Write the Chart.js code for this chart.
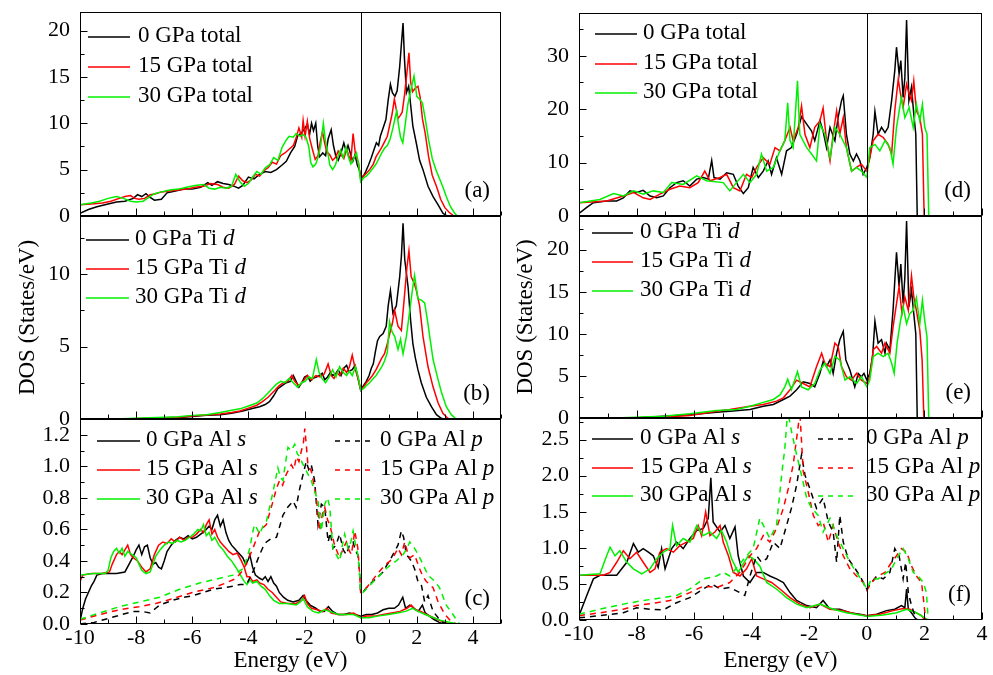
<!DOCTYPE html>
<html>
<head>
<meta charset="utf-8">
<script src="https://cdn.jsdelivr.net/npm/chart.js@4.4.1/dist/chart.umd.min.js"></script>
<style>
body{margin:0;background:#fff;width:993px;height:675px;position:relative;overflow:hidden}
canvas{position:absolute}
</style>
</head>
<body>
<canvas id="pa"></canvas>
<canvas id="pb"></canvas>
<canvas id="pc"></canvas>
<canvas id="pd"></canvas>
<canvas id="pe"></canvas>
<canvas id="pf"></canvas>
<script>
// ---- panel (a): total DOS, left column
const totA0 = [[-10,0.3],[-9.7,0.7],[-9.4,1.0],[-9.0,1.3],[-8.7,1.5],[-8.4,1.6],[-8.1,1.9],[-7.95,2.3],[-7.8,2.1],[-7.65,2.4],[-7.5,2.0],[-7.35,1.7],[-7.1,1.8],[-6.9,2.5],[-6.6,2.7],[-6.3,2.9],[-6.0,2.9],[-5.7,3.1],[-5.45,3.6],[-5.3,3.3],[-5.1,3.7],[-4.9,3.5],[-4.7,3.4],[-4.5,3.2],[-4.35,3.0],[-4.2,3.3],[-4.0,4.2],[-3.8,4.0],[-3.6,4.5],[-3.4,4.8],[-3.2,4.7],[-3.0,5.0],[-2.8,5.5],[-2.65,5.9],[-2.5,6.8],[-2.35,7.5],[-2.25,8.6],[-2.1,9.0],[-2.0,9.4],[-1.9,9.9],[-1.82,8.8],[-1.75,10.0],[-1.68,9.2],[-1.6,10.0],[-1.53,7.5],[-1.46,6.4],[-1.35,6.8],[-1.25,6.5],[-1.16,8.3],[-1.05,9.3],[-0.97,7.6],[-0.88,6.4],[-0.8,6.0],[-0.7,6.8],[-0.6,7.9],[-0.52,7.0],[-0.45,7.6],[-0.37,6.8],[-0.28,5.9],[-0.2,6.6],[-0.12,5.5],[-0.05,5.0],[0,4.4],[0.08,4.2],[0.18,4.8],[0.28,5.5],[0.38,6.3],[0.48,7.2],[0.56,7.9],[0.64,7.6],[0.7,8.6],[0.8,9.5],[0.9,10.4],[0.98,12.5],[1.06,14.2],[1.13,13.3],[1.22,12.9],[1.3,13.5],[1.39,16.1],[1.45,18.5],[1.51,20.8],[1.56,17.0],[1.63,13.3],[1.71,14.0],[1.78,12.0],[1.86,9.7],[1.98,7.9],[2.1,6.0],[2.22,5.0],[2.4,3.2],[2.58,2.1],[2.76,1.2],[2.93,0.3],[3.05,0.05],[3.15,0],[5,0]]
const totA15 = [[-10,1.2],[-9.6,1.3],[-9.2,1.4],[-8.9,1.6],[-8.6,1.9],[-8.4,2.1],[-8.2,2.2],[-8.05,1.9],[-7.9,1.8],[-7.7,1.9],[-7.5,2.3],[-7.3,2.4],[-7.1,2.6],[-6.8,2.7],[-6.5,2.8],[-6.2,2.9],[-5.9,3.1],[-5.6,3.2],[-5.35,3.5],[-5.1,3.4],[-4.9,3.1],[-4.7,3.0],[-4.5,3.4],[-4.35,4.3],[-4.2,3.8],[-4.05,3.6],[-3.9,3.9],[-3.75,4.5],[-3.6,4.3],[-3.45,4.9],[-3.3,5.2],[-3.15,5.8],[-3.0,5.6],[-2.85,6.5],[-2.7,6.8],[-2.55,7.2],[-2.4,7.6],[-2.3,8.4],[-2.2,9.5],[-2.1,8.5],[-2.05,10.3],[-1.98,8.6],[-1.9,10.2],[-1.82,8.4],[-1.72,7.2],[-1.62,6.1],[-1.52,6.5],[-1.44,8.0],[-1.36,9.1],[-1.28,7.8],[-1.2,6.9],[-1.1,6.6],[-1.0,6.0],[-0.9,6.3],[-0.8,7.0],[-0.7,6.6],[-0.6,6.2],[-0.5,7.2],[-0.42,6.5],[-0.35,6.0],[-0.27,8.9],[-0.18,6.5],[-0.08,5.8],[0,4.0],[0.1,4.3],[0.2,4.6],[0.32,5.0],[0.45,5.6],[0.55,6.4],[0.65,6.9],[0.75,7.4],[0.85,8.0],[0.95,8.6],[1.05,10.0],[1.12,11.0],[1.2,12.6],[1.27,11.5],[1.33,10.5],[1.4,10.8],[1.48,11.2],[1.56,13.0],[1.65,15.5],[1.72,17.6],[1.78,14.5],[1.85,13.4],[1.95,13.8],[2.04,14.0],[2.12,12.8],[2.2,10.5],[2.3,8.9],[2.42,6.4],[2.55,4.4],[2.7,3.2],[2.85,1.8],[3.0,0.9],[3.15,0.4],[3.3,0.05],[3.4,0],[5,0]]
const totA30 = [[-10,1.2],[-9.6,1.4],[-9.3,1.6],[-9.0,1.9],[-8.7,2.1],[-8.45,1.9],[-8.2,1.6],[-8.0,1.5],[-7.75,1.6],[-7.55,2.0],[-7.35,2.4],[-7.1,2.6],[-6.8,2.8],[-6.5,2.9],[-6.2,3.1],[-5.9,3.3],[-5.6,3.4],[-5.4,3.0],[-5.2,2.9],[-5.0,3.1],[-4.8,3.0],[-4.6,3.2],[-4.45,4.5],[-4.3,3.7],[-4.15,3.2],[-4.0,3.5],[-3.85,4.2],[-3.7,4.8],[-3.55,4.5],[-3.4,5.2],[-3.25,5.5],[-3.1,6.3],[-2.95,6.0],[-2.8,7.4],[-2.65,8.2],[-2.55,8.6],[-2.4,8.5],[-2.3,8.9],[-2.15,8.6],[-2.05,8.8],[-1.95,8.5],[-1.85,7.5],[-1.78,5.8],[-1.7,5.3],[-1.6,5.6],[-1.5,6.5],[-1.42,7.7],[-1.33,10.0],[-1.26,8.2],[-1.18,7.0],[-1.1,5.5],[-1.0,5.0],[-0.9,5.5],[-0.8,6.5],[-0.72,7.1],[-0.62,6.3],[-0.52,7.4],[-0.45,6.5],[-0.35,5.6],[-0.25,6.2],[-0.15,6.8],[-0.07,5.5],[0,3.7],[0.1,4.1],[0.2,4.3],[0.32,4.7],[0.45,5.2],[0.55,5.6],[0.65,6.2],[0.75,6.8],[0.85,7.3],[0.95,7.6],[1.05,8.3],[1.15,9.5],[1.22,10.5],[1.28,11.3],[1.35,9.8],[1.42,8.5],[1.5,7.9],[1.58,9.7],[1.68,12.0],[1.78,13.5],[1.9,15.1],[2.0,12.9],[2.1,12.6],[2.2,12.2],[2.3,10.5],[2.42,8.2],[2.55,6.2],[2.68,5.0],[2.8,4.1],[2.92,3.2],[3.05,2.1],[3.2,1.0],[3.35,0.3],[3.45,0],[5,0]]

// ---- panel (b): Ti d, left column
const tidB0 = [[-10,0],[-9,0],[-8,0.02],[-7,0.06],[-6.5,0.1],[-6,0.18],[-5.5,0.25],[-5,0.3],[-4.6,0.4],[-4.2,0.55],[-3.9,0.7],[-3.6,0.85],[-3.4,1.0],[-3.25,1.2],[-3.1,1.6],[-2.95,2.1],[-2.8,2.3],[-2.65,2.5],[-2.5,2.6],[-2.4,3.0],[-2.3,2.6],[-2.2,2.2],[-2.1,2.5],[-2.0,2.9],[-1.9,3.0],[-1.8,2.6],[-1.7,2.8],[-1.58,2.9],[-1.47,3.0],[-1.37,3.15],[-1.28,2.7],[-1.18,2.9],[-1.08,3.2],[-1.0,3.0],[-0.9,3.1],[-0.8,3.4],[-0.7,3.0],[-0.6,3.5],[-0.5,3.7],[-0.42,3.3],[-0.3,3.4],[-0.2,3.7],[-0.1,2.9],[0,2.0],[0.1,2.3],[0.2,2.6],[0.3,3.0],[0.38,3.5],[0.45,3.8],[0.52,4.6],[0.6,5.4],[0.68,5.7],[0.8,5.9],[0.91,6.4],[0.98,7.8],[1.06,8.85],[1.15,7.3],[1.27,7.8],[1.39,9.8],[1.45,11.2],[1.51,13.5],[1.57,11.0],[1.69,9.1],[1.78,6.8],[1.86,5.2],[1.95,4.2],[2.04,3.4],[2.16,2.5],[2.34,1.5],[2.52,0.85],[2.7,0.3],[2.87,0.05],[2.95,0],[5,0]]
const tidB15 = [[-10,0],[-8.5,0],[-7.5,0.05],[-6.5,0.12],[-6,0.2],[-5.5,0.28],[-5,0.35],[-4.6,0.45],[-4.3,0.55],[-4.0,0.75],[-3.7,0.95],[-3.5,1.2],[-3.3,1.5],[-3.1,1.9],[-2.9,2.3],[-2.75,2.5],[-2.6,2.6],[-2.45,3.0],[-2.35,2.6],[-2.2,2.3],[-2.05,2.6],[-1.9,3.0],[-1.75,2.7],[-1.6,3.0],[-1.45,2.9],[-1.3,3.1],[-1.16,3.8],[-1.05,3.0],[-0.95,2.8],[-0.85,3.2],[-0.75,3.0],[-0.62,3.5],[-0.5,3.2],[-0.4,3.6],[-0.3,4.4],[-0.2,3.5],[-0.1,2.8],[0,2.0],[0.1,2.2],[0.2,2.5],[0.3,2.7],[0.42,3.0],[0.55,3.4],[0.65,3.8],[0.75,4.2],[0.85,4.5],[0.95,5.2],[1.05,6.0],[1.13,6.6],[1.21,7.5],[1.33,6.4],[1.45,6.1],[1.57,8.7],[1.65,10.5],[1.72,11.6],[1.8,9.8],[1.9,9.4],[1.98,8.9],[2.1,7.8],[2.22,5.7],[2.4,3.6],[2.58,2.2],[2.76,1.1],[2.93,0.4],[3.1,0.05],[3.2,0],[5,0]]
const tidB30 = [[-10,0],[-8.5,0.02],[-7.5,0.08],[-6.5,0.15],[-6,0.25],[-5.5,0.3],[-5,0.45],[-4.6,0.6],[-4.3,0.7],[-4.0,0.9],[-3.7,1.1],[-3.5,1.4],[-3.3,1.8],[-3.15,2.1],[-3.0,2.4],[-2.85,2.6],[-2.7,2.5],[-2.55,2.8],[-2.4,2.5],[-2.25,2.2],[-2.1,2.5],[-1.98,2.6],[-1.85,2.9],[-1.72,2.8],[-1.58,4.1],[-1.48,3.2],[-1.38,2.8],[-1.25,2.5],[-1.12,2.9],[-1.0,3.4],[-0.88,2.9],[-0.75,3.6],[-0.62,3.2],[-0.5,3.0],[-0.4,3.3],[-0.3,3.0],[-0.18,3.6],[-0.08,2.8],[0,2.0],[0.1,2.1],[0.2,2.3],[0.32,2.5],[0.45,2.8],[0.55,3.0],[0.65,3.3],[0.75,3.6],[0.85,4.0],[0.95,4.6],[1.03,6.7],[1.12,6.0],[1.21,5.7],[1.33,4.8],[1.42,5.5],[1.51,4.5],[1.63,5.7],[1.75,7.5],[1.85,9.0],[1.92,9.9],[2.04,8.3],[2.16,8.2],[2.28,8.0],[2.38,6.8],[2.46,5.7],[2.58,4.1],[2.76,2.7],[2.87,1.9],[3.05,0.85],[3.23,0.3],[3.4,0],[5,0]]

// ---- panel (c): Al s (solid) and Al p (dashed), left column
const alsC0 = [[-10,0.02],[-9.9,0.1],[-9.8,0.16],[-9.7,0.2],[-9.6,0.24],[-9.5,0.27],[-9.4,0.31],[-9.2,0.32],[-8.7,0.32],[-8.4,0.33],[-8.25,0.38],[-8.1,0.43],[-8.0,0.47],[-7.9,0.5],[-7.8,0.44],[-7.7,0.49],[-7.6,0.5],[-7.5,0.42],[-7.4,0.38],[-7.3,0.39],[-7.2,0.36],[-7.1,0.35],[-7.0,0.4],[-6.9,0.46],[-6.75,0.5],[-6.6,0.53],[-6.45,0.55],[-6.3,0.54],[-6.15,0.56],[-6.0,0.54],[-5.85,0.55],[-5.7,0.57],[-5.55,0.59],[-5.4,0.62],[-5.3,0.6],[-5.2,0.66],[-5.1,0.69],[-5.0,0.62],[-4.9,0.66],[-4.8,0.58],[-4.7,0.53],[-4.6,0.5],[-4.5,0.48],[-4.4,0.46],[-4.3,0.44],[-4.2,0.42],[-4.1,0.38],[-4.0,0.41],[-3.95,0.44],[-3.85,0.36],[-3.75,0.31],[-3.6,0.29],[-3.5,0.28],[-3.4,0.3],[-3.3,0.27],[-3.2,0.3],[-3.1,0.26],[-3.0,0.24],[-2.9,0.2],[-2.75,0.17],[-2.6,0.15],[-2.4,0.14],[-2.2,0.15],[-2.05,0.18],[-1.95,0.15],[-1.8,0.12],[-1.6,0.1],[-1.45,0.08],[-1.3,0.08],[-1.15,0.11],[-1.0,0.08],[-0.8,0.06],[-0.6,0.06],[-0.4,0.07],[-0.2,0.06],[0,0.05],[0.2,0.06],[0.4,0.06],[0.6,0.07],[0.8,0.09],[1.0,0.1],[1.2,0.1],[1.35,0.12],[1.5,0.17],[1.6,0.1],[1.75,0.12],[1.9,0.1],[2.05,0.08],[2.2,0.12],[2.3,0.07],[2.45,0.05],[2.6,0.03],[2.8,0.01],[2.95,0],[5,0]]
const alsC15 = [[-10,0.27],[-9.9,0.31],[-9.6,0.32],[-9.2,0.32],[-8.95,0.33],[-8.85,0.38],[-8.7,0.44],[-8.6,0.46],[-8.5,0.44],[-8.4,0.47],[-8.3,0.5],[-8.2,0.44],[-8.1,0.42],[-7.95,0.4],[-7.8,0.36],[-7.65,0.33],[-7.5,0.35],[-7.35,0.44],[-7.2,0.5],[-7.05,0.52],[-6.9,0.51],[-6.75,0.54],[-6.6,0.52],[-6.45,0.55],[-6.3,0.53],[-6.15,0.55],[-6.0,0.55],[-5.85,0.57],[-5.7,0.6],[-5.6,0.58],[-5.5,0.63],[-5.4,0.66],[-5.3,0.57],[-5.2,0.6],[-5.1,0.55],[-5.0,0.52],[-4.9,0.5],[-4.8,0.48],[-4.7,0.46],[-4.55,0.44],[-4.4,0.45],[-4.25,0.4],[-4.15,0.36],[-4.05,0.3],[-3.95,0.3],[-3.85,0.27],[-3.7,0.28],[-3.6,0.26],[-3.45,0.25],[-3.3,0.22],[-3.15,0.2],[-3.0,0.17],[-2.85,0.14],[-2.6,0.13],[-2.3,0.13],[-2.1,0.15],[-2.0,0.18],[-1.9,0.13],[-1.75,0.1],[-1.55,0.09],[-1.35,0.08],[-1.2,0.1],[-1.05,0.07],[-0.8,0.06],[-0.5,0.06],[-0.25,0.07],[0,0.04],[0.2,0.05],[0.5,0.05],[0.8,0.06],[1.1,0.07],[1.4,0.08],[1.65,0.1],[1.8,0.12],[1.95,0.09],[2.15,0.08],[2.35,0.06],[2.6,0.04],[2.85,0.02],[3.1,0.005],[3.25,0],[5,0]]
const alsC30 = [[-10,0.31],[-9.5,0.32],[-9.1,0.32],[-9.0,0.34],[-8.9,0.42],[-8.8,0.46],[-8.7,0.48],[-8.6,0.45],[-8.5,0.48],[-8.4,0.43],[-8.3,0.46],[-8.15,0.44],[-8.0,0.42],[-7.9,0.38],[-7.8,0.34],[-7.65,0.32],[-7.5,0.33],[-7.4,0.38],[-7.3,0.43],[-7.15,0.47],[-7.0,0.5],[-6.85,0.52],[-6.7,0.51],[-6.55,0.53],[-6.4,0.52],[-6.25,0.53],[-6.1,0.55],[-5.95,0.57],[-5.8,0.6],[-5.7,0.59],[-5.6,0.63],[-5.5,0.56],[-5.4,0.58],[-5.3,0.53],[-5.2,0.55],[-5.05,0.5],[-4.9,0.47],[-4.75,0.43],[-4.6,0.4],[-4.45,0.36],[-4.35,0.33],[-4.25,0.3],[-4.15,0.27],[-4.05,0.25],[-3.95,0.28],[-3.85,0.26],[-3.7,0.27],[-3.55,0.24],[-3.4,0.22],[-3.25,0.18],[-3.1,0.15],[-2.9,0.13],[-2.6,0.13],[-2.3,0.12],[-2.15,0.14],[-2.05,0.16],[-1.9,0.11],[-1.7,0.08],[-1.5,0.07],[-1.3,0.09],[-1.1,0.08],[-0.8,0.06],[-0.5,0.06],[-0.25,0.06],[0,0.04],[0.3,0.04],[0.6,0.05],[1.0,0.06],[1.3,0.07],[1.6,0.08],[1.85,0.1],[2.05,0.08],[2.3,0.06],[2.6,0.04],[2.9,0.02],[3.2,0.01],[3.5,0],[5,0]]
const alpC0 = [[-10,0],[-9.5,0.01],[-8.9,0.04],[-8.5,0.06],[-8.1,0.08],[-7.8,0.08],[-7.5,0.07],[-7.3,0.1],[-7.16,0.12],[-6.7,0.15],[-6.3,0.17],[-5.97,0.18],[-5.6,0.2],[-5.26,0.22],[-4.9,0.23],[-4.55,0.24],[-4.3,0.25],[-4.07,0.25],[-3.84,0.33],[-3.6,0.44],[-3.45,0.5],[-3.36,0.52],[-3.2,0.54],[-3.0,0.55],[-2.85,0.64],[-2.77,0.69],[-2.6,0.74],[-2.41,0.78],[-2.3,0.74],[-2.17,0.86],[-2.05,0.95],[-1.94,1.03],[-1.85,0.98],[-1.76,1.01],[-1.64,0.91],[-1.52,0.63],[-1.4,0.76],[-1.28,0.74],[-1.16,0.52],[-1.08,0.58],[-0.99,0.48],[-0.88,0.5],[-0.75,0.57],[-0.62,0.47],[-0.51,0.44],[-0.4,0.5],[-0.27,0.52],[-0.18,0.46],[-0.1,0.44],[-0.03,0.3],[0,0.2],[0.08,0.2],[0.25,0.24],[0.44,0.27],[0.62,0.3],[0.8,0.33],[0.92,0.37],[1.03,0.4],[1.12,0.43],[1.21,0.46],[1.33,0.5],[1.45,0.59],[1.53,0.55],[1.63,0.44],[1.72,0.42],[1.8,0.4],[1.92,0.35],[2.04,0.27],[2.16,0.25],[2.28,0.14],[2.4,0.18],[2.58,0.08],[2.76,0.04],[2.93,0.01],[3.05,0],[5,0]]
const alpC15 = [[-10,0.025],[-9.3,0.06],[-8.6,0.09],[-7.9,0.11],[-7.3,0.13],[-6.7,0.16],[-6.0,0.2],[-5.26,0.23],[-4.8,0.26],[-4.43,0.29],[-4.25,0.33],[-4.07,0.38],[-3.84,0.48],[-3.6,0.59],[-3.36,0.63],[-3.25,0.7],[-3.12,0.78],[-3.0,0.86],[-2.89,0.91],[-2.78,0.88],[-2.65,0.95],[-2.47,1.01],[-2.38,0.98],[-2.29,1.06],[-2.2,1.03],[-2.11,1.1],[-2.04,1.15],[-1.99,1.24],[-1.93,1.12],[-1.88,1.01],[-1.76,0.97],[-1.66,0.88],[-1.58,0.8],[-1.46,0.59],[-1.36,0.7],[-1.28,0.74],[-1.18,0.66],[-1.1,0.63],[-0.93,0.5],[-0.84,0.46],[-0.75,0.42],[-0.62,0.48],[-0.51,0.52],[-0.42,0.47],[-0.33,0.44],[-0.21,0.59],[-0.1,0.48],[-0.03,0.3],[0,0.2],[0.08,0.2],[0.3,0.25],[0.56,0.31],[0.75,0.35],[0.91,0.38],[1.05,0.4],[1.15,0.42],[1.33,0.48],[1.45,0.44],[1.57,0.52],[1.66,0.46],[1.75,0.42],[1.92,0.44],[2.1,0.35],[2.22,0.3],[2.34,0.27],[2.58,0.23],[2.76,0.14],[3.0,0.06],[3.23,0.015],[3.4,0],[5,0]]
const alpC30 = [[-10,0.03],[-9.3,0.07],[-8.6,0.11],[-7.87,0.14],[-7.16,0.17],[-6.45,0.22],[-5.74,0.26],[-5.02,0.29],[-4.55,0.31],[-4.19,0.35],[-4.05,0.42],[-3.95,0.48],[-3.85,0.58],[-3.78,0.63],[-3.68,0.6],[-3.6,0.57],[-3.48,0.62],[-3.36,0.65],[-3.22,0.76],[-3.12,0.84],[-3.03,0.92],[-2.95,0.99],[-2.86,0.93],[-2.77,0.91],[-2.68,1.02],[-2.59,1.12],[-2.47,1.1],[-2.35,1.14],[-2.26,1.08],[-2.17,1.06],[-2.08,1.02],[-1.99,0.99],[-1.88,0.95],[-1.76,0.91],[-1.64,0.84],[-1.52,0.78],[-1.4,0.59],[-1.28,0.76],[-1.18,0.8],[-1.1,0.74],[-0.99,0.48],[-0.87,0.44],[-0.75,0.4],[-0.65,0.5],[-0.57,0.57],[-0.45,0.48],[-0.35,0.52],[-0.27,0.59],[-0.18,0.5],[-0.1,0.44],[-0.03,0.3],[0,0.2],[0.08,0.2],[0.3,0.24],[0.56,0.29],[0.75,0.32],[0.91,0.35],[1.1,0.38],[1.27,0.4],[1.51,0.44],[1.62,0.47],[1.75,0.52],[1.92,0.48],[2.05,0.44],[2.16,0.4],[2.4,0.31],[2.64,0.27],[2.81,0.23],[3.05,0.12],[3.29,0.06],[3.47,0.01],[3.55,0],[5,0]]

// ---- panel (d): total DOS, right column
const totD0 = [[-10,0.5],[-9.73,1.6],[-9.5,2.5],[-9.04,2.8],[-8.69,2.8],[-8.46,3.4],[-8.23,4.7],[-8.0,4.4],[-7.77,4.8],[-7.53,3.75],[-7.3,3.4],[-7.07,3.75],[-6.84,5.3],[-6.61,6.25],[-6.38,6.6],[-6.15,5.6],[-5.91,6.9],[-5.68,7.2],[-5.51,6.9],[-5.39,10.4],[-5.31,7.2],[-5.1,6.9],[-4.87,8.1],[-4.64,7.8],[-4.47,5.6],[-4.29,4.2],[-4.12,5.3],[-3.95,9.1],[-3.77,7.2],[-3.6,8.4],[-3.43,10.3],[-3.31,7.8],[-3.14,10.9],[-2.96,7.8],[-2.79,12.2],[-2.62,12.8],[-2.44,15.3],[-2.27,18.6],[-2.09,17.2],[-1.92,15.9],[-1.81,14.1],[-1.63,17.8],[-1.52,15.9],[-1.4,12.8],[-1.28,16.6],[-1.11,14.1],[-1.0,18.4],[-0.88,21.6],[-0.82,22.5],[-0.71,15.3],[-0.59,11.6],[-0.47,10.3],[-0.36,11.6],[-0.24,10.3],[-0.13,7.8],[0,9.1],[0.1,10.9],[0.22,15.3],[0.28,19.6],[0.39,15.3],[0.51,16.6],[0.63,15.6],[0.74,16.6],[0.86,21.6],[0.97,27.2],[1.03,31.6],[1.12,26.6],[1.18,29.1],[1.26,22.2],[1.32,25.9],[1.38,36.7],[1.46,21.6],[1.55,24.1],[1.63,19.1],[1.7,15.3],[1.75,0],[4,0]]
const totD15 = [[-10,2.5],[-9.04,2.8],[-8.46,3.75],[-8.1,4.4],[-7.77,3.4],[-7.53,3.1],[-7.19,4.1],[-6.84,5.0],[-6.5,5.6],[-6.15,5.3],[-5.86,6.25],[-5.63,8.4],[-5.45,6.6],[-5.1,7.2],[-4.87,7.8],[-4.64,5.3],[-4.41,4.7],[-4.18,7.8],[-4.0,7.2],[-3.83,9.1],[-3.6,10.9],[-3.37,9.7],[-3.19,12.8],[-3.02,12.2],[-2.85,14.1],[-2.67,16.6],[-2.56,14.1],[-2.38,16.6],[-2.27,20.6],[-2.15,15.3],[-1.98,12.8],[-1.81,16.6],[-1.63,17.8],[-1.52,20.2],[-1.4,14.1],[-1.28,10.3],[-1.17,15.3],[-1.05,19.7],[-0.94,15.3],[-0.82,18.4],[-0.71,12.8],[-0.53,8.4],[-0.36,9.1],[-0.19,9.7],[0,8.4],[0.1,10.9],[0.22,14.1],[0.39,15.3],[0.57,14.7],[0.74,13.4],[0.86,11.6],[0.97,19.7],[1.09,25.6],[1.17,22.8],[1.26,20.3],[1.38,24.7],[1.47,22.8],[1.55,21.6],[1.63,25.3],[1.72,19.7],[1.84,18.4],[1.93,15.3],[1.99,0],[4,0]]
const totD30 = [[-10,2.5],[-9.27,3.1],[-8.8,4.2],[-8.46,3.75],[-8.1,4.7],[-7.77,4.1],[-7.42,4.7],[-7.07,4.4],[-6.78,6.25],[-6.38,5.9],[-5.91,7.5],[-5.57,6.6],[-4.99,6.25],[-4.76,4.7],[-4.53,6.25],[-4.29,7.8],[-4.06,6.25],[-3.83,7.8],[-3.66,11.6],[-3.48,8.4],[-3.25,9.1],[-3.02,12.2],[-2.85,14.1],[-2.75,21.2],[-2.67,14.1],[-2.56,12.8],[-2.41,25.3],[-2.33,15.3],[-2.09,12.8],[-1.92,11.6],[-1.75,10.3],[-1.63,17.2],[-1.46,15.3],[-1.28,10.9],[-1.11,16.6],[-0.94,15.3],[-0.71,12.8],[-0.53,8.4],[-0.36,9.1],[-0.19,8.4],[0,7.2],[0.1,12.8],[0.28,13.4],[0.45,12.2],[0.63,14.1],[0.8,12.8],[0.91,9.7],[1.03,16.6],[1.2,22.2],[1.32,18.4],[1.47,20.3],[1.61,16.6],[1.72,20.9],[1.84,17.8],[1.93,20.9],[2.01,16.6],[2.09,15.3],[2.15,0],[4,0]]

// ---- panel (e): Ti d, right column
const tidE0 = [[-10,0],[-8.1,0],[-7.07,0.2],[-6.15,0.4],[-5.22,0.67],[-4.76,0.8],[-4.06,1.0],[-3.6,1.4],[-3.25,1.6],[-2.9,2.2],[-2.67,2.6],[-2.44,3.35],[-2.21,4.3],[-1.98,4.1],[-1.81,3.7],[-1.63,5.3],[-1.52,6.7],[-1.4,6.1],[-1.28,6.9],[-1.17,5.3],[-1.05,7.7],[-0.94,9.3],[-0.82,10.3],[-0.73,6.9],[-0.59,5.7],[-0.42,3.7],[-0.3,5.3],[-0.19,4.9],[-0.1,5.3],[0,4.5],[0.1,5.3],[0.2,7.3],[0.28,11.5],[0.39,8.9],[0.51,9.3],[0.63,7.7],[0.68,8.9],[0.8,8.1],[0.91,12.8],[1.03,19.7],[1.12,15.6],[1.18,18.3],[1.26,13.6],[1.32,16.7],[1.38,23.4],[1.46,13.2],[1.55,15.2],[1.63,12.4],[1.7,10.0],[1.75,0],[4,0]]
const tidE15 = [[-10,0],[-8.5,0],[-7.07,0.1],[-6.15,0.3],[-5.22,0.8],[-4.76,1.0],[-4.06,1.4],[-3.6,1.6],[-3.14,2.0],[-2.9,2.4],[-2.67,3.35],[-2.44,4.5],[-2.21,4.1],[-1.98,3.7],[-1.75,6.1],[-1.57,7.7],[-1.46,6.5],[-1.28,6.1],[-1.11,8.9],[-1.0,8.5],[-0.88,6.1],[-0.71,4.9],[-0.53,4.5],[-0.36,5.3],[-0.19,4.5],[0,4.1],[0.1,4.9],[0.22,8.1],[0.34,8.5],[0.51,7.7],[0.63,8.9],[0.8,7.7],[0.91,10.8],[1.03,13.6],[1.12,15.6],[1.22,12.4],[1.32,14.4],[1.44,12.8],[1.55,16.9],[1.63,14.4],[1.72,12.8],[1.84,10.4],[1.92,6.9],[1.98,0],[4,0]]
const tidE30 = [[-10,0],[-8.5,0.02],[-7.07,0.2],[-6.15,0.5],[-5.22,0.9],[-4.53,1.0],[-4.06,1.4],[-3.66,1.8],[-3.25,2.2],[-3.02,2.75],[-2.85,3.7],[-2.75,4.6],[-2.62,3.35],[-2.41,5.5],[-2.27,3.7],[-2.04,3.35],[-1.81,4.1],[-1.63,5.7],[-1.46,6.5],[-1.28,5.3],[-1.11,7.3],[-0.94,6.9],[-0.76,4.5],[-0.59,4.9],[-0.36,4.1],[-0.19,4.9],[0,3.7],[0.1,4.5],[0.22,7.3],[0.39,7.7],[0.57,7.3],[0.74,7.7],[0.86,6.5],[0.95,5.3],[1.05,8.9],[1.17,11.6],[1.26,13.2],[1.38,11.2],[1.49,12.4],[1.61,12.8],[1.72,14.3],[1.84,11.2],[1.93,14.0],[2.01,11.6],[2.09,9.6],[2.15,0],[4,0]]

// ---- panel (f): Al s (solid) and Al p (dashed), right column
const alsF0 = [[-10,0.06],[-9.73,0.34],[-9.5,0.57],[-9.27,0.62],[-8.69,0.62],[-8.34,0.8],[-8.11,1.06],[-7.94,0.94],[-7.77,0.99],[-7.59,0.94],[-7.42,0.89],[-7.25,0.73],[-7.13,0.99],[-7.01,0.71],[-6.78,0.99],[-6.61,1.08],[-6.38,0.99],[-6.15,1.13],[-5.91,1.24],[-5.68,1.27],[-5.51,1.41],[-5.42,1.97],[-5.34,1.36],[-5.1,1.22],[-4.93,1.31],[-4.76,1.13],[-4.58,1.29],[-4.47,0.89],[-4.29,0.61],[-4.06,0.52],[-3.83,0.66],[-3.6,0.66],[-3.37,0.61],[-3.14,0.57],[-2.9,0.52],[-2.67,0.38],[-2.44,0.27],[-2.09,0.2],[-1.75,0.17],[-1.52,0.27],[-1.28,0.15],[-0.94,0.15],[-0.59,0.1],[-0.24,0.08],[0,0.06],[0.34,0.08],[0.68,0.13],[0.97,0.15],[1.2,0.2],[1.32,0.17],[1.38,0.43],[1.44,0.15],[1.55,0.1],[1.67,0.03],[1.75,0],[4,0]]
const alsF15 = [[-10,0.62],[-9.16,0.62],[-8.92,0.66],[-8.69,0.8],[-8.46,0.96],[-8.23,0.85],[-8.0,0.94],[-7.77,0.8],[-7.53,0.66],[-7.36,0.71],[-7.19,0.94],[-6.96,0.99],[-6.72,0.94],[-6.5,1.03],[-6.26,1.08],[-6.03,1.13],[-5.86,1.31],[-5.74,1.17],[-5.6,1.5],[-5.45,1.17],[-5.28,1.22],[-5.1,1.31],[-4.99,1.08],[-4.81,0.89],[-4.64,0.66],[-4.41,0.61],[-4.18,0.71],[-4.0,0.85],[-3.83,0.61],[-3.6,0.57],[-3.31,0.52],[-3.02,0.43],[-2.67,0.31],[-2.33,0.22],[-1.98,0.17],[-1.63,0.22],[-1.28,0.15],[-0.82,0.13],[-0.36,0.08],[0,0.06],[0.45,0.08],[0.91,0.13],[1.26,0.16],[1.49,0.15],[1.72,0.1],[1.9,0.06],[2.01,0],[4,0]]
const alsF30 = [[-10,0.62],[-9.27,0.64],[-9.04,0.89],[-8.92,1.01],[-8.75,0.89],[-8.58,0.96],[-8.34,0.8],[-8.11,0.71],[-7.82,0.64],[-7.53,0.71],[-7.3,0.85],[-7.07,0.94],[-6.84,0.99],[-6.75,1.31],[-6.61,1.03],[-6.38,1.13],[-6.15,1.08],[-5.91,1.31],[-5.68,1.17],[-5.45,1.22],[-5.22,1.13],[-5.05,1.24],[-4.87,1.08],[-4.7,0.85],[-4.47,0.66],[-4.29,0.78],[-4.12,0.89],[-3.95,0.85],[-3.72,0.75],[-3.48,0.52],[-3.14,0.43],[-2.79,0.31],[-2.44,0.22],[-2.09,0.17],[-1.63,0.22],[-1.17,0.15],[-0.71,0.1],[-0.24,0.07],[0,0.05],[0.57,0.07],[1.03,0.1],[1.38,0.15],[1.72,0.1],[2.01,0.03],[2.13,0],[4,0]]
const alpF0 = [[-10,0.03],[-9.27,0.06],[-8.46,0.1],[-8.0,0.17],[-7.53,0.15],[-7.07,0.14],[-6.61,0.24],[-6.15,0.31],[-5.68,0.43],[-5.39,0.5],[-5.1,0.43],[-4.76,0.45],[-4.41,0.38],[-4.24,0.34],[-4.06,0.61],[-3.83,0.89],[-3.66,0.8],[-3.48,0.85],[-3.25,1.08],[-3.02,0.99],[-2.79,1.31],[-2.62,1.55],[-2.44,1.87],[-2.27,2.29],[-2.15,2.01],[-1.98,1.82],[-1.75,1.55],[-1.52,1.69],[-1.34,1.36],[-1.17,1.22],[-1.05,0.8],[-0.94,1.45],[-0.82,1.08],[-0.65,0.85],[-0.47,0.75],[-0.24,0.61],[0,0.43],[0.16,0.52],[0.34,0.61],[0.57,0.57],[0.8,0.66],[0.97,0.99],[1.12,0.89],[1.26,0.57],[1.35,0.8],[1.44,0.38],[1.55,0.2],[1.67,0.06],[1.75,0],[4,0]]
const alpF15 = [[-10,0.06],[-9.27,0.1],[-8.46,0.15],[-8.0,0.2],[-7.3,0.24],[-6.84,0.27],[-6.15,0.38],[-5.68,0.47],[-5.22,0.45],[-4.76,0.52],[-4.41,0.66],[-4.06,0.89],[-3.83,0.99],[-3.6,1.17],[-3.37,1.08],[-3.14,1.27],[-2.9,1.55],[-2.73,1.82],[-2.56,2.15],[-2.38,2.7],[-2.33,2.9],[-2.21,2.06],[-2.04,1.78],[-1.86,1.45],[-1.69,1.31],[-1.52,1.36],[-1.34,1.08],[-1.17,1.31],[-1.0,1.08],[-0.82,0.89],[-0.59,0.71],[-0.36,0.61],[-0.13,0.52],[0,0.41],[0.16,0.52],[0.39,0.61],[0.63,0.66],[0.86,0.8],[1.03,0.89],[1.2,0.99],[1.38,0.94],[1.55,0.75],[1.72,0.61],[1.9,0.52],[1.98,0.24],[2.04,0],[4,0]]
const alpF30 = [[-10,0.08],[-9.27,0.15],[-8.46,0.22],[-7.77,0.27],[-7.07,0.31],[-6.61,0.34],[-6.15,0.43],[-5.68,0.57],[-5.22,0.61],[-4.99,0.66],[-4.76,0.61],[-4.47,0.75],[-4.18,0.89],[-3.95,0.99],[-3.72,1.41],[-3.54,1.27],[-3.37,1.13],[-3.14,1.31],[-2.96,2.01],[-2.85,2.38],[-2.75,2.9],[-2.62,2.62],[-2.44,2.29],[-2.27,2.01],[-2.09,1.69],[-1.92,1.55],[-1.69,1.45],[-1.52,1.22],[-1.28,1.41],[-1.05,1.17],[-0.82,0.99],[-0.59,0.8],[-0.36,0.66],[-0.13,0.52],[0,0.43],[0.16,0.57],[0.39,0.57],[0.63,0.64],[0.86,0.71],[1.09,0.89],[1.26,0.99],[1.44,0.85],[1.61,0.66],[1.78,0.61],[1.96,0.52],[2.07,0.38],[2.13,0],[4,0]]

// ---- labels / ticks
const pressures = ['0', '15', '30']
const colors = ['#000000', '#ff0000', '#00f000']
const xTicksLeft = [-10, 5, 2]     // min, max, step
const xTicksRight = [-10, 4, 2]
const yTitle = 'DOS (States/eV)'
const xTitle = 'Energy (eV)'

const serif = '"Liberation Serif", "Times New Roman", serif'
Chart.defaults.font.family = serif
Chart.defaults.font.size = 22
Chart.defaults.color = '#000'

function mkSet(pts, i, text, it, dashed){
return {
label: pressures[i] + ' GPa ' + text,
it: it,
data: pts.map(p=>({x:p[0], y:p[1]})),
borderColor: colors[i],
borderWidth: 1.5,
borderDash: dashed ? [6,5] : [],
pointRadius: 0,
tension: 0,
fill: false
}
}

// frame, inward ticks, zero line, legend and panel letter
const dosPlugin = {
id: 'dos',
afterDatasetsDraw(chart, args, o){
const {ctx, chartArea: a, scales: {x, y}} = chart
const L = Math.round(a.left) + .5, R = Math.round(a.right) - .5
const T = Math.round(a.top) + .5, B = Math.round(a.bottom) - .5
ctx.save()
ctx.strokeStyle = '#000'
ctx.lineWidth = 1
ctx.setLineDash([])
ctx.strokeRect(L, T, R - L, B - T)
const x0 = Math.round(x.getPixelForValue(0)) + .5
ctx.beginPath(); ctx.moveTo(x0, T); ctx.lineTo(x0, B); ctx.stroke()
ctx.beginPath()
for(let v = x.min; v <= x.max; v++){
const px = Math.round(x.getPixelForValue(v)) + .5
const len = (v % 2 === 0) ? 7 : 4
ctx.moveTo(px, B); ctx.lineTo(px, B - len)
}
const half = o.ystep / 2
for(let k = 0; k * half <= y.max + 1e-9; k++){
const py = Math.round(y.getPixelForValue(k * half)) + .5
const len = (k % 2 === 0) ? 7 : 4
ctx.moveTo(L, py); ctx.lineTo(L + len, py)
}
ctx.stroke()

// legend
ctx.textBaseline = 'middle'
ctx.textAlign = 'left'
o.legend.forEach(col=>{
col.items.forEach((di, r)=>{
const d = chart.data.datasets[di]
const yy = a.top + col.rows[r]
ctx.strokeStyle = d.borderColor
ctx.lineWidth = 1.5
ctx.setLineDash(d.borderDash.length ? [5,5] : [])
ctx.beginPath()
ctx.moveTo(a.left + col.lx, yy + 1)
ctx.lineTo(a.left + col.lx + col.lw, yy + 1)
ctx.stroke()
ctx.setLineDash([])
ctx.fillStyle = '#000'
ctx.font = '23px ' + serif
const tx = a.left + col.tx
ctx.fillText(d.label, tx, yy)
if(d.it){
const w = ctx.measureText(d.label + ' ').width
ctx.font = 'italic 23px ' + serif
ctx.fillText(d.it, tx + w, yy)
}
})
})

// panel letter
ctx.font = '23px ' + serif
ctx.textAlign = 'right'
ctx.fillStyle = '#000'
ctx.fillText(o.letter, a.right - 11, a.bottom - 25)
ctx.restore()
}
}

// p.top / p.h are the canvas box; the chart area sits 24px inside it (or above the x axis block)
function makePanel(id, p){
const cv = document.getElementById(id)
cv.width = p.w
cv.height = p.h
cv.style.left = p.left + 'px'
cv.style.top = p.top + 'px'
const xt = p.right ? xTicksRight : xTicksLeft
new Chart(cv, {
type: 'line',
data: {datasets: p.sets.map((s, i, all)=>Object.assign(s, {order: all.length - i}))},
plugins: [dosPlugin],
options: {
responsive: false,
devicePixelRatio: 1,
animation: false,
events: [],
layout: {padding: {left: 0, right: 11, top: 24, bottom: p.bottom ? 0 : 24}},
plugins: {
legend: {display: false},
tooltip: {enabled: false},
dos: {ystep: p.ystep, legend: p.legend, letter: p.letter}
},
scales: {
x: {
type: 'linear', min: xt[0], max: xt[1],
grid: {display: false, drawTicks: false},
border: {display: false},
ticks: {display: !!p.bottom, stepSize: xt[2], includeBounds: false, autoSkip: false, maxRotation: 0, padding: 1},
title: {display: !!p.bottom, text: xTitle, font: {size: 23}, padding: {top: 0, bottom: 0}},
afterFit(s){ s.height = p.bottom || 0 }
},
y: {
type: 'linear', min: 0, max: p.ymax,
grid: {display: false, drawTicks: false},
border: {display: false},
ticks: {stepSize: p.ystep, includeBounds: false, padding: 10,
callback: v => p.dec ? v.toFixed(1) : String(v)},
title: {display: !!p.title, text: yTitle, font: {size: 23}, padding: {top: p.right ? 13 : 14, bottom: 0}},
afterFit(s){ s.width = 80 }
}
}
}
})
}

const legTot = (lx, lw, tx, rows)=>[{lx, lw, tx, rows, items: [0, 1, 2]}]

makePanel('pa', {left: 0, top: -12, w: 512, h: 252, ymax: 22, ystep: 5, letter: '(a)',
sets: [mkSet(totA0, 0, 'total'), mkSet(totA15, 1, 'total'), mkSet(totA30, 2, 'total')],
legend: legTot(8, 42, 58, [24, 54, 84])})

makePanel('pb', {left: 0, top: 192, w: 512, h: 251, ymax: 14, ystep: 5, letter: '(b)', title: true,
sets: [mkSet(tidB0, 0, 'Ti', 'd'), mkSet(tidB15, 1, 'Ti', 'd'), mkSet(tidB30, 2, 'Ti', 'd')],
legend: legTot(6, 43, 55, [23, 52, 81])})

makePanel('pc', {left: 0, top: 395, w: 512, h: 280, ymax: 1.3, ystep: 0.2, dec: true, letter: '(c)', bottom: 51,
sets: [mkSet(alsC0, 0, 'Al', 's'), mkSet(alsC15, 1, 'Al', 's'), mkSet(alsC30, 2, 'Al', 's'),
mkSet(alpC0, 0, 'Al', 'p', true), mkSet(alpC15, 1, 'Al', 'p', true), mkSet(alpC30, 2, 'Al', 'p', true)],
legend: [{lx: 17, lw: 43, tx: 66, rows: [21, 50, 79], items: [0, 1, 2]},
{lx: 255, lw: 36, tx: 300, rows: [21, 50, 79], items: [3, 4, 5]}]})

makePanel('pd', {left: 499, top: -11, w: 494, h: 251, ymax: 38, ystep: 10, letter: '(d)', right: true,
sets: [mkSet(totD0, 0, 'total'), mkSet(totD15, 1, 'total'), mkSet(totD30, 2, 'total')],
legend: legTot(16, 42, 64, [20, 50, 79])})

makePanel('pe', {left: 499, top: 192, w: 494, h: 250, ymax: 24, ystep: 5, letter: '(e)', right: true, title: true,
sets: [mkSet(tidE0, 0, 'Ti', 'd'), mkSet(tidE15, 1, 'Ti', 'd'), mkSet(tidE30, 2, 'Ti', 'd')],
legend: legTot(13, 41, 61, [16, 45, 74])})

makePanel('pf', {left: 499, top: 394, w: 494, h: 281, ymax: 2.8, ystep: 0.5, dec: true, letter: '(f)', right: true, bottom: 55,
sets: [mkSet(alsF0, 0, 'Al', 's'), mkSet(alsF15, 1, 'Al', 's'), mkSet(alsF30, 2, 'Al', 's'),
mkSet(alpF0, 0, 'Al', 'p', true), mkSet(alpF15, 1, 'Al', 'p', true), mkSet(alpF30, 2, 'Al', 'p', true)],
legend: [{lx: 13, lw: 41, tx: 61, rows: [20, 49, 77], items: [0, 1, 2]},
{lx: 239, lw: 36, tx: 287, rows: [20, 49, 77], items: [3, 4, 5]}]})
</script>
</body>
</html>
